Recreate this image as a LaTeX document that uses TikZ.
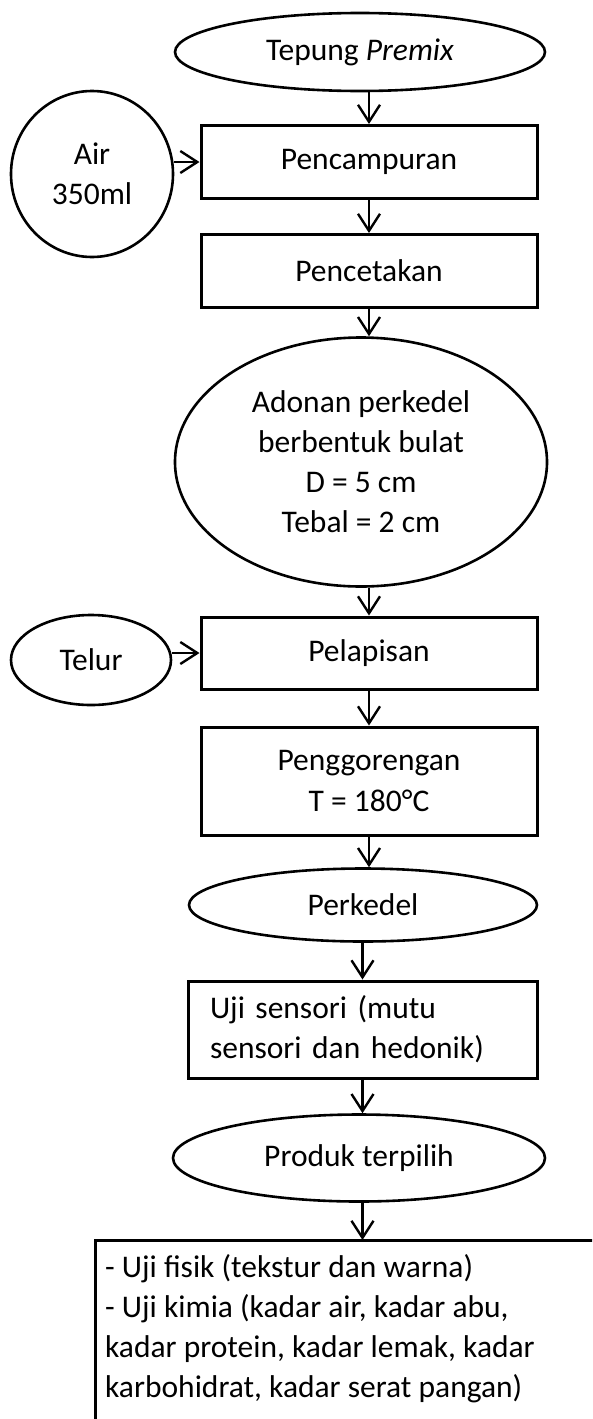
\documentclass[tikz,border=0pt]{standalone}
\usepackage{fontspec}
\setmainfont{Carlito}
\usetikzlibrary{shapes.geometric}
\usetikzlibrary{arrows.meta}
\usetikzlibrary{calc}

\begin{document}
\begin{tikzpicture}[x=1pt, y=-1pt,
  every node/.style={font=\fontsize{31.5}{40}\selectfont, inner sep=0pt},
  proc/.style={rectangle, draw, line width=3pt, minimum width=336pt, minimum height=73pt, align=center},
  term/.style={ellipse, draw, line width=2.6pt, align=center},
  flow/.style={-{Straight Barb[length=17pt, width=22pt]}, line width=2.4pt}]

        % Page frame (same size as the scanned chart)
        \useasboundingbox (0,0) rectangle (592,1419);
        \clip (0,0) rectangle (592,1419);

        % Column of the main steps
        \def\colx{369}

        % Raw material and first steps
        \node[term, minimum width=370pt, minimum height=78pt] (premix) at (360, 52) {Tepung \textit{Premix}};
        \node[proc] (mix) at (\colx, 162) {Pencampuran};
        \node[term, minimum width=162pt, minimum height=166pt] (air) at (92, 174) {Air\\350ml};
        \node[proc] (mold) at (\colx, 271) {Pencetakan};

        % Shaped dough
        \node[term, minimum width=372pt, minimum height=249pt] (dough) at (361, 462)
          {Adonan perkedel\\berbentuk bulat\\D = 5 cm\\Tebal = 2 cm};

        % Coating and frying
        \node[proc, minimum height=72pt] (coat) at (\colx, 653) {Pelapisan};
        \node[term, minimum width=160pt, minimum height=90pt] (egg) at (91, 660) {Telur};
        \node[proc, minimum height=108pt] (fry) at (\colx, 781) {Penggorengan\\T = 180°C};

        % Product and sensory test
        \node[term, minimum width=348pt, minimum height=73pt] (perkedel) at (363, 905) {Perkedel};
        \node[rectangle, draw, line width=3pt, minimum width=349pt, minimum height=97pt,
          text width=305pt, inner xsep=22pt, align=left] (sensory) at (362.5, 1029.5)
          {Uji sensori (mutu\\sensori dan hedonik)};
        \node[term, minimum width=372pt, minimum height=87pt] (pick) at (359, 1158) {Produk terpilih};

        % Final analyses (box runs off the page)
        \node[anchor=north west, align=left] (tests) at (105, 1254)
          {- Uji fisik (tekstur dan warna)\\- Uji kimia (kadar air, kadar abu,\\kadar protein, kadar lemak, kadar\\karbohidrat, kadar serat pangan)};
        \coordinate (testtop) at (95, 1240);
        \draw[line width=3pt] ($(testtop)+(0,300)$) -- (testtop) -- ++(600,0);

        % Arrows
        \draw[flow] (mix.north |- premix.south) -- (mix.north);
        \draw[flow] (air.east |- mix.west) -- (mix.west);
        \draw[flow] (mix.south) -- (mold.north);
        \draw[flow] (mold.south) -- (mold.south |- dough.north);
        \draw[flow] (coat.north |- dough.south) -- (coat.north);
        \draw[flow] (egg.east |- coat.west) -- (coat.west);
        \draw[flow] (coat.south) -- (fry.north);
        \draw[flow] (fry.south) -- (fry.south |- perkedel.north);
        \draw[flow] (sensory.north |- perkedel.south) -- (sensory.north);
        \draw[flow] (sensory.south) -- (sensory.south |- pick.north);
        \draw[flow] (pick.south -| sensory.south) -- (sensory.south |- testtop);

      \end{tikzpicture}
\end{document}
